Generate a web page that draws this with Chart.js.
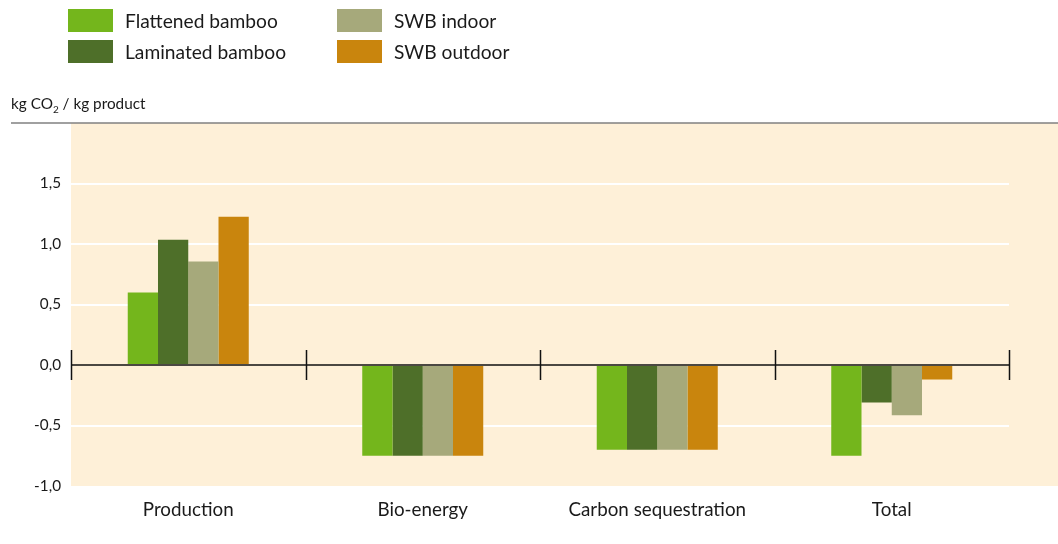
<!DOCTYPE html>
<html>
<head>
<meta charset="utf-8">
<script src="https://cdn.jsdelivr.net/npm/chart.js@4.4.1/dist/chart.umd.min.js"></script>
<style>
  body { margin: 0; background: #fff; font-family: Lato, sans-serif; color: #1a1a1a; }
  #wrap { position: relative; width: 1058px; height: 544px; }
  #myChart { position: absolute; left: 0; top: 0; }
  .leg { position: absolute; font-size: 19.2px; line-height: 23px; white-space: nowrap; }
  .leg span { display: inline-block; width: 45px; height: 23px; vertical-align: top; margin-right: 12px; }
  #ytitle { position: absolute; left: 11px; top: 94px; font-size: 15.3px; white-space: nowrap; }
  #ytitle sub { font-size: 10px; }
</style>
</head>
<body>
<div id="wrap">
  <canvas id="myChart" width="1058" height="544"></canvas>
  <div class="leg" style="left:68px;top:9px"><span style="background:#74b61c"></span>Flattened bamboo</div>
  <div class="leg" style="left:68px;top:40px"><span style="background:#4e6f29"></span>Laminated bamboo</div>
  <div class="leg" style="left:337px;top:9px"><span style="background:#a6a97b"></span>SWB indoor</div>
  <div class="leg" style="left:337px;top:40px"><span style="background:#c9850d"></span>SWB outdoor</div>
  <div id="ytitle">kg CO<sub>2</sub> / kg product</div>
</div>
<script>
var categories = ['Production', 'Bio-energy', 'Carbon sequestration', 'Total'];
var seriesNames = ['Flattened bamboo', 'Laminated bamboo', 'SWB indoor', 'SWB outdoor'];
var flattened = [0.60, -0.75, -0.70, -0.75];
var laminated = [1.035, -0.75, -0.70, -0.31];
var swbIndoor = [0.855, -0.75, -0.70, -0.415];
var swbOutdoor = [1.225, -0.75, -0.70, -0.12];
var colors = ['#74b61c', '#4e6f29', '#a6a97b', '#c9850d'];

var seriesData = [flattened, laminated, swbIndoor, swbOutdoor];
var datasets = [];
for (var i = 0; i < seriesNames.length; i++) {
    datasets.push({
        label: seriesNames[i],
        data: seriesData[i],
        backgroundColor: colors[i],
        borderWidth: 0,
        barPercentage: 1.0,
        categoryPercentage: 0.516
    });
}

// beige plot background, top rule, and the category dividers on the zero line
var decor = {
    id: 'decor',
    beforeDraw: function(chart) {
        var c = chart.ctx, a = chart.chartArea;
        c.save();
        c.fillStyle = '#fef0d8';
        c.fillRect(a.left, a.top, chart.width - a.left, a.bottom - a.top);
        c.strokeStyle = '#808080';
        c.lineWidth = 1.5;
        c.beginPath();
        c.moveTo(11, a.top);
        c.lineTo(chart.width, a.top);
        c.stroke();
        c.restore();
    },
    afterDatasetsDraw: function(chart) {
        var c = chart.ctx, a = chart.chartArea;
        var y0 = chart.scales.y.getPixelForValue(0);
        var step = (a.right - a.left) / categories.length;
        c.save();
        c.strokeStyle = '#111';
        c.lineWidth = 1.5;
        c.beginPath();
        c.moveTo(a.left, y0);
        c.lineTo(a.right, y0);
        for (var k = 0; k <= categories.length; k++) {
            var x = Math.round(a.left + k * step) + 0.5;
            c.moveTo(x, y0 - 15);
            c.lineTo(x, y0 + 15);
        }
        c.stroke();
        c.restore();
    }
};

var ctx = document.getElementById('myChart').getContext('2d');
var chart = new Chart(ctx, {
    type: 'bar',
    data: { labels: categories, datasets: datasets },
    plugins: [decor],
    options: {
        responsive: false,
        animation: false,
        layout: { padding: { top: 123, right: 49, left: 0, bottom: 0 } },
        plugins: { legend: { display: false }, tooltip: { enabled: false } },
        scales: {
            x: {
                grid: { display: false, drawTicks: false },
                border: { display: false },
                ticks: { color: '#1a1a1a', padding: 13, font: { family: 'Lato', size: 18.8 } },
                afterFit: function(s) { s.height = 58; }
            },
            y: {
                min: -1, max: 2,
                border: { display: false },
                grid: {
                    drawTicks: false,
                    lineWidth: 2,
                    color: function(c) {
                        var v = c.tick.value;
                        if (v === 0 || v === 2 || v === -1) return 'rgba(0,0,0,0)';
                        return '#ffffff';
                    }
                },
                ticks: {
                    stepSize: 0.5,
                    padding: 10,
                    color: '#1a1a1a',
                    font: { family: 'Lato', size: 15.3 },
                    callback: function(v) {
                        if (v === 2) return '';
                        return v.toFixed(1).replace('.', ',');
                    }
                },
                afterFit: function(s) { s.width = 71; }
            }
        }
    }
});
</script>
</body>
</html>
